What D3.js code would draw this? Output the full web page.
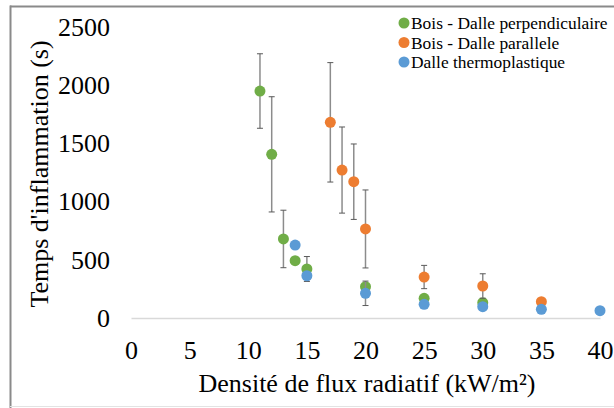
<!DOCTYPE html>
<html><head><meta charset="utf-8">
<script src="https://cdn.jsdelivr.net/npm/d3@7"></script>
<style>body{margin:0;background:#fff}svg{display:block}</style>
</head><body>
<script>
const seriesNames = ["Bois - Dalle perpendiculaire","Bois - Dalle parallele","Dalle thermoplastique"];
const seriesColors = ["#70AD47","#ED7D31","#5B9BD5"];
const perpX = [11,12,13,14,15,20,25,30];
const perpY = [1950,1406,679,492,421,269,169,131];
const perpErr = [320,495,247,0,107,0,0,0];
const paraX = [17,18,19,20,25,30,35];
const paraY = [1681,1271,1171,765,352,275,140];
const paraErr = [513,370,324,335,100,105,0];
const thermoX = [14,15,20,25,30,35,40];
const thermoY = [627,363,212,118,97,75,63];
const thermoErr = [0,0,105,0,0,0,0];
const xTicks = [0,5,10,15,20,25,30,35,40];
const yTicks = [0,500,1000,1500,2000,2500];
const xTitle = "Densité de flux radiatif (kW/m²)";
const yTitle = "Temps d'inflammation (s)";

const FONT = "'Liberation Serif', 'Times New Roman', serif";
const W=614,H=408;
const svg=d3.select("body").append("svg").attr("width",W).attr("height",H);
// frame
svg.append("line").attr("x1",10).attr("x2",W).attr("y1",6.5).attr("y2",6.5).attr("stroke","#8a8a8a").attr("stroke-width",2);
svg.append("line").attr("x1",10.5).attr("x2",10.5).attr("y1",5.5).attr("y2",H).attr("stroke","#8a8a8a").attr("stroke-width",2);
svg.append("line").attr("x1",10).attr("x2",W).attr("y1",406.5).attr("y2",406.5).attr("stroke","#e3e3e3").attr("stroke-width",1);

const x=d3.scaleLinear().domain([0,40]).range([131,600]);
const y=d3.scaleLinear().domain([0,2500]).range([318,27]);

// x axis
const xa=svg.append("g").attr("transform","translate(0,318)")
  .call(d3.axisBottom(x).tickValues(xTicks).tickSize(0).tickPadding(23).tickFormat(d3.format("d")));
xa.select(".domain").attr("stroke","#d9d9d9").attr("stroke-width",1.5);
xa.attr("font-family",null).attr("font-size",null);
xa.selectAll("text").style("font-family",FONT).style("font-size","26px").attr("fill","#000");
// y axis
const ya=svg.append("g").attr("transform","translate(131,0)")
  .call(d3.axisLeft(y).tickValues(yTicks).tickSize(0).tickPadding(21).tickFormat(d3.format("d")));
ya.select(".domain").remove();
ya.attr("font-family",null).attr("font-size",null);
ya.selectAll("text").style("font-family",FONT).style("font-size","26px").attr("fill","#000");

svg.append("text").attr("x",367).attr("y",392).attr("text-anchor","middle")
  .style("font-family",FONT).style("font-size","26px").text(xTitle);
svg.append("text").attr("transform","translate(48,174) rotate(-90)").attr("text-anchor","middle")
  .style("font-family",FONT).style("font-size","26px").text(yTitle);

const series=[[perpX,perpY,perpErr],[paraX,paraY,paraErr],[thermoX,thermoY,thermoErr]];
series.forEach((s,i)=>{
  const data=s[0].map((xv,j)=>({x:xv,y:s[1][j],e:s[2][j]}));
  const g=svg.append("g");
  const eb=data.filter(d=>d.e>0);
  g.selectAll(".ev").data(eb).join("line").attr("x1",d=>x(d.x)).attr("x2",d=>x(d.x))
    .attr("y1",d=>y(d.y+d.e)).attr("y2",d=>y(d.y-d.e)).attr("stroke","#8c8c8c").attr("stroke-width",1.5);
  [1,-1].forEach(sg=>{
    g.selectAll(".cap"+sg).data(eb).join("line").attr("x1",d=>x(d.x)-3).attr("x2",d=>x(d.x)+3)
      .attr("y1",d=>y(d.y+sg*d.e)).attr("y2",d=>y(d.y+sg*d.e)).attr("stroke","#595959").attr("stroke-width",1);
  });
  g.selectAll("circle").data(data).join("circle").attr("cx",d=>x(d.x)).attr("cy",d=>y(d.y)).attr("r",5.5).attr("fill",seriesColors[i]);
});

// legend
const lg=svg.append("g");
seriesNames.forEach((n,i)=>{
  const yy=23+i*19.5;
  lg.append("circle").attr("cx",404).attr("cy",yy).attr("r",5.5).attr("fill",seriesColors[i]);
  lg.append("text").attr("x",411).attr("y",yy+6).style("font-family",FONT).style("font-size","17.4px").text(n);
});
</script>
</body></html>
